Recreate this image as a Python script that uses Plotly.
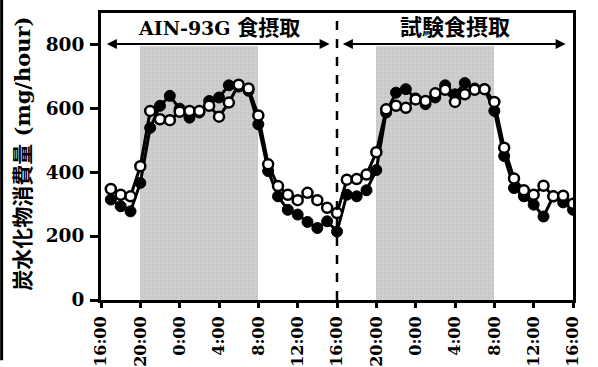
import plotly.graph_objects as go

hours = list(range(1, 49))
filled = [314, 293, 277, 366, 538, 607, 638, 598, 570, 586, 622, 633, 671, 667, 654, 549,
          403, 324, 282, 267, 244, 225, 246, 214,
          329, 324, 343, 406, 586, 648, 659, 630, 612, 633, 671, 643, 678, 661, 659, 591,
          450, 350, 324, 298, 261, 324, 305, 282]
opened = [347, 329, 324, 418, 591, 565, 562, 588, 591, 591, 607, 573, 617, 673, 661, 577,
          424, 356, 329, 312, 335, 312, 288, 272,
          376, 378, 392, 462, 596, 607, 601, 627, 622, 646, 657, 619, 643, 657, 659, 619,
          476, 380, 343, 329, 357, 324, 326, 301]

tick_vals = [0, 4, 8, 12, 16, 20, 24, 28, 32, 36, 40, 44, 48]
tick_text = ["16:00", "20:00", "0:00", "4:00", "8:00", "12:00", "16:00",
             "20:00", "0:00", "4:00", "8:00", "12:00", "16:00"]
y_ticks = [0, 200, 400, 600, 800]
dark_start = [4, 28]
dark_end = [16, 40]
dark_top = 795
phase_labels = ["AIN-93G <span style='font-size:21px'>食摂取</span>",
                "<span style='font-size:22px'>試験食摂取</span>"]
phase_start = [0, 24]
phase_end = [24, 48]
arrow_y = 800
switch_hour = 24
y_title = "炭水化物消費量 (mg/hour)"

SERIF = "DejaVu Serif, Noto Sans CJK JP"

fig = go.Figure()

fig.add_trace(go.Bar(
    x=[(s + e) / 2 for s, e in zip(dark_start, dark_end)],
    y=[dark_top] * len(dark_start),
    width=[e - s for s, e in zip(dark_start, dark_end)],
    marker=dict(color="#cccccc", line=dict(width=0),
                pattern=dict(shape="+", fgcolor="#e8e8e8", bgcolor="#c8c8c8", size=4, solidity=0.25)),
    hoverinfo="skip", showlegend=False,
))

fig.add_trace(go.Scatter(
    x=hours, y=filled, mode="lines+markers",
    line=dict(color="black", width=3),
    marker=dict(color="black", size=11, line=dict(color="black", width=1)),
    showlegend=False,
))
fig.add_trace(go.Scatter(
    x=hours, y=opened, mode="lines+markers",
    line=dict(color="black", width=3),
    marker=dict(color="white", size=10, line=dict(color="black", width=2.5)),
    showlegend=False,
))

fig.add_shape(type="line", xref="x", yref="paper", x0=switch_hour, x1=switch_hour, y0=0, y1=1,
              line=dict(color="black", width=2.5, dash="dash"))

for lab, s, e in zip(phase_labels, phase_start, phase_end):
    fig.add_annotation(x=s + 0.6, y=arrow_y, ax=e - 0.6, ay=arrow_y, xref="x", yref="y",
                       axref="x", ayref="y", text="", showarrow=True, arrowhead=2,
                       arrowside="end+start", arrowwidth=2, arrowsize=1, arrowcolor="black")
    fig.add_annotation(x=(s + e) / 2, y=arrow_y, xref="x", yref="y", text=lab, showarrow=False,
                       yanchor="bottom", yshift=2,
                       font=dict(family=SERIF, size=19, color="black", weight="bold"))

fig.add_annotation(x=-0.167, y=0.51, xref="paper", yref="paper", text=y_title, textangle=-90,
                   showarrow=False, xanchor="center", yanchor="middle",
                   font=dict(family=SERIF, size=21, color="black", weight="bold"))

fig.add_shape(type="line", xref="paper", yref="paper", x0=-0.2105, x1=-0.2105, y0=-0.21, y1=1.05,
              line=dict(color="black", width=3))

fig.update_layout(
    width=598, height=367,
    margin=dict(l=101, r=25, t=13, b=67),
    plot_bgcolor="white", paper_bgcolor="white",
    bargap=0,
    xaxis=dict(range=[0, 48], tickvals=tick_vals, ticktext=tick_text, tickangle=-90,
               automargin=False, ticklabelstandoff=2,
               showgrid=False, zeroline=False, showline=True, linecolor="black", linewidth=3,
               mirror=True, ticks="outside", ticklen=5, tickwidth=3, tickcolor="black",
               tickfont=dict(family=SERIF, size=16, color="black", weight="bold")),
    yaxis=dict(range=[0, 897], tickvals=y_ticks, automargin=False, ticklabelstandoff=2,
               showgrid=False, zeroline=False, showline=True, linecolor="black", linewidth=3,
               mirror=True, ticks="outside", ticklen=8, tickwidth=3, tickcolor="black",
               tickfont=dict(family=SERIF, size=18.5, color="black", weight="bold")),
)

fig.write_html("out.html", post_script="document.body.style.margin='0';",
               config={"displayModeBar": False})
